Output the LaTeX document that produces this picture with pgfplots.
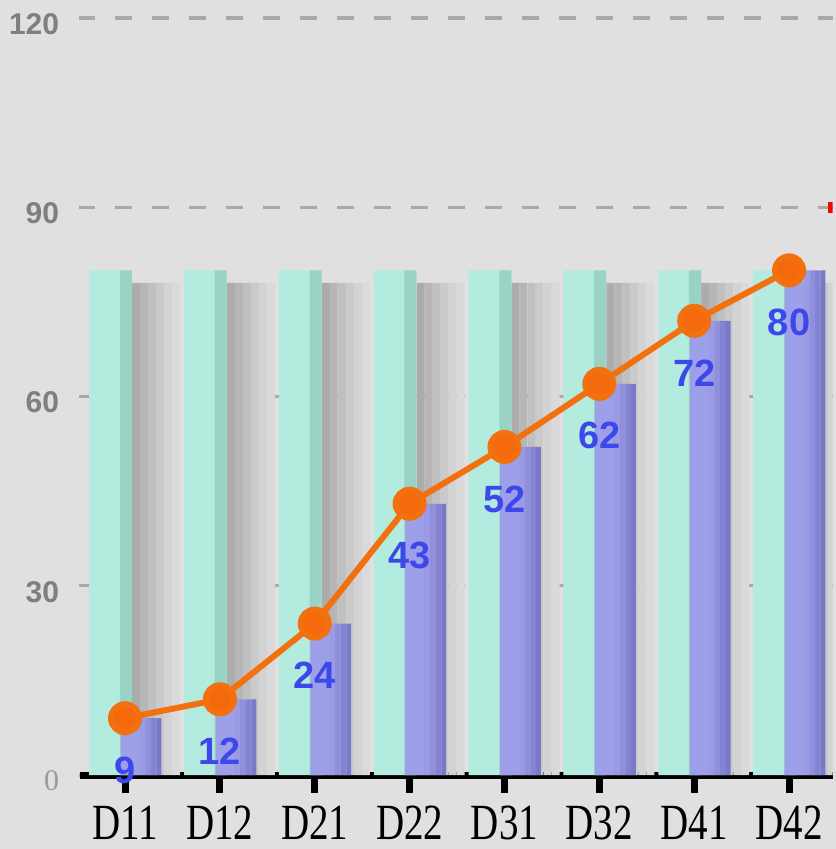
\documentclass[border=0pt]{standalone}
\usepackage{pgfplots}
\pgfplotsset{compat=1.18}
\usepackage{fontspec}
\usepackage{graphicx}
\setmainfont{Liberation Serif}
\newfontfamily\sansb{Liberation Sans}
\usetikzlibrary{backgrounds}
\definecolor{bg}{HTML}{E0E0E0}
\definecolor{teallight}{HTML}{B4EBDF}
\definecolor{tealdark}{HTML}{99D3C5}
\definecolor{shA}{HTML}{ACACAC}
\definecolor{shB}{HTML}{B6B6B6}
\definecolor{shC}{HTML}{C0C0C0}
\definecolor{shD}{HTML}{CACACA}
\definecolor{shE}{HTML}{D3D3D3}
\definecolor{shF}{HTML}{DADADA}
\definecolor{puA}{HTML}{9E9FE9}
\definecolor{puB}{HTML}{9A9AE6}
\definecolor{puC}{HTML}{8F8FDD}
\definecolor{puD}{HTML}{8383D3}
\definecolor{puE}{HTML}{7A79C9}
\definecolor{lineorange}{HTML}{F3700F}
\definecolor{markorange}{HTML}{F4690C}
\definecolor{labelblue}{HTML}{3C48EA}
\definecolor{gridgray}{HTML}{A9A9A9}
\definecolor{ticktext}{HTML}{7F7F7F}
\definecolor{zerotext}{HTML}{9A9A9A}
\newcommand{\yl}[1]{\makebox[39pt][r]{#1\hspace*{10pt}}}
\newcommand{\xl}[1]{\scalebox{1}[1.3]{#1}}
\pgfplotstableread{
x mint shadow val
0 80 78 9
1 80 78 12
2 80 78 24
3 80 78 43
4 80 78 52
5 80 78 62
6 80 78 72
7 80 78 80
}\data
\begin{document}
\begin{tikzpicture}[show background rectangle, tight background, background rectangle/.style={fill=bg, draw=none}]
\begin{axis}[
  scale only axis, width=414.5pt, height=424.5pt,
  xmin=-1.281, xmax=7.458, ymin=-11.73, ymax=122.86,
  axis x line*=middle, axis y line*=left,
  hide obscured x ticks=false, hide obscured y ticks=false,
  axis background/.style={fill=bg},
  x axis line style={line width=3.5pt, black, shorten <=38.25pt},
  y axis line style={draw=none},
  xtick={0,1,2,3,4,5,6,7},
  xticklabels={\xl{D11},\xl{D12},\xl{D21},\xl{D22},\xl{D31},\xl{D32},\xl{D41},\xl{D42}},
  ytick={0,30,60,90,120},
  yticklabels={\yl{\rmfamily\mdseries\color{zerotext}0},\yl{30},\yl{60},\yl{90},\yl{120}},
  tick align=outside, major tick length=9pt,
  xtick style={line width=3.5pt, black},
  ytick style={draw=none, xshift=10pt},
  ymajorgrids,
  grid style={dash pattern=on 8.5pt off 10pt, line width=1.7pt, gridgray},
  xticklabel style={font=\fontsize{19.5}{20}\selectfont, text=black, anchor=north, inner sep=0pt, yshift=-6.5pt},
  yticklabel style={font=\sansb\bfseries\fontsize{15}{15}\selectfont, text=ticktext, anchor=east, inner sep=0pt, fill=bg, yshift=-3pt, xshift=47pt},
  /pgf/number format/assume math mode=true,
  clip=true,
]
% soft shadow beside the mint bars (strips, darkest next to the bar)
\addplot[ybar, bar width=0.0845, bar shift=0.116, fill=shA, draw=none] table[x=x, y=shadow] {\data};
\addplot[ybar, bar width=0.0845, bar shift=0.200, fill=shB, draw=none] table[x=x, y=shadow] {\data};
\addplot[ybar, bar width=0.0845, bar shift=0.285, fill=shC, draw=none] table[x=x, y=shadow] {\data};
\addplot[ybar, bar width=0.0845, bar shift=0.369, fill=shD, draw=none] table[x=x, y=shadow] {\data};
\addplot[ybar, bar width=0.0845, bar shift=0.454, fill=shE, draw=none] table[x=x, y=shadow] {\data};
\addplot[ybar, bar width=0.0845, bar shift=0.538, fill=shF, draw=none] table[x=x, y=shadow] {\data};
% mint bars (light part)
\addplot[ybar, bar width=0.45, bar shift=-0.153, fill=teallight, draw=none] table[x=x, y=mint] {\data};
% mint bars (darker right strip)
\addplot[ybar, bar width=0.127, bar shift=0.0085, fill=tealdark, draw=none] table[x=x, y=mint] {\data};
% purple bars, built from strips that darken to the right
\addplot[ybar, bar width=0.2, bar shift=0.054, fill=puA, draw=none] table[x=x, y=val] {\data};
\addplot[ybar, bar width=0.06, bar shift=0.184, fill=puB, draw=none] table[x=x, y=val] {\data};
\addplot[ybar, bar width=0.06, bar shift=0.244, fill=puC, draw=none] table[x=x, y=val] {\data};
\addplot[ybar, bar width=0.06, bar shift=0.304, fill=puD, draw=none] table[x=x, y=val] {\data};
\addplot[ybar, bar width=0.05, bar shift=0.359, fill=puE, draw=none] table[x=x, y=val] {\data};
% orange line
\addplot[lineorange, line width=3pt, mark=*, mark size=7pt, mark options={fill=markorange, draw=none},
  nodes near coords,
  every node near coord/.append style={font=\sansb\bfseries\fontsize{19}{19}\selectfont, text=labelblue, anchor=center, yshift=-26pt}]
  table[x=x, y=val] {\data};
\fill[red] (axis cs:7.41,89.1) rectangle (axis cs:7.5,90.85);
\end{axis}
\end{tikzpicture}
\end{document}
